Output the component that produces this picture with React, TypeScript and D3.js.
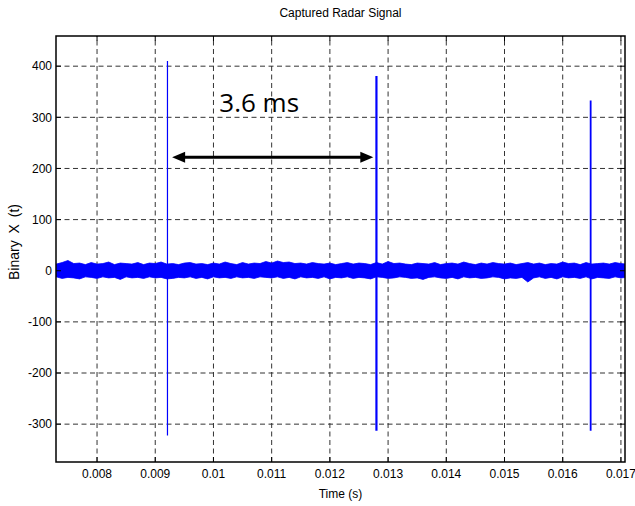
import React from "react";
import * as d3 from "d3";

const W = 635;
const H = 506;
const margin = { left: 56, right: 10, top: 36, bottom: 44 };

const xTicks = [0.008, 0.009, 0.01, 0.011, 0.012, 0.013, 0.014, 0.015, 0.016, 0.017];
const yTicks = [-300, -200, -100, 0, 100, 200, 300, 400];
const xDomain = [0.007295, 0.01707];
const yDomain = [-374, 459];

// noise envelope sampled every 0.1 ms starting at 7.3 ms
const noiseStart = 0.0073;
const noiseStep = 0.0001;
const noiseUpper = [
  13, 16, 20, 14, 15, 12, 16, 13, 14, 17, 12, 15, 14, 13, 16, 12, 15, 14, 17, 13,
  14, 12, 15, 16, 13, 14, 12, 15, 13, 17, 14, 12, 16, 13, 15, 14, 18, 15, 19, 16,
  17, 14, 15, 13, 16, 14, 13, 15, 12, 14, 16, 13, 15, 14, 12, 16, 13, 18, 14, 15,
  13, 12, 15, 14, 13, 16, 12, 14, 15, 13, 17, 14, 12, 15, 13, 16, 14, 13, 15, 12,
  14, 16, 13, 15, 12, 14, 13, 17, 14, 15, 12, 16, 13, 14, 15, 13, 16, 14, 13
];
const noiseLower = [
  -12, -15, -13, -14, -16, -12, -13, -15, -12, -14, -13, -17, -12, -14, -13, -15, -12, -14, -13, -16,
  -15, -13, -14, -12, -15, -13, -16, -12, -14, -13, -15, -12, -14, -13, -15, -12, -13, -14, -12, -15,
  -13, -16, -12, -14, -13, -15, -12, -16, -13, -14, -12, -15, -13, -14, -16, -12, -13, -15, -14, -12,
  -13, -15, -14, -17, -13, -12, -14, -15, -13, -16, -12, -14, -13, -15, -14, -12, -13, -16, -14, -15,
  -13, -22, -14, -12, -15, -13, -16, -12, -14, -13, -15, -12, -16, -13, -14, -15, -12, -14, -13
];

// pulses
const pulseTimes = [0.00921, 0.0128, 0.01648];
const pulseMax = [410, 381, 333];
const pulseMin = [-322, -313, -313];
const pulseWidth = [1.2, 2.2, 1.8];

// annotation
const arrowStart = 0.00929;
const arrowEnd = 0.012746;
const arrowY = 222;
const labelT = 0.0101;
const labelY = 310;
const labelText = "3.6 ms";

export default function App() {
  const x = d3.scaleLinear().domain(xDomain).range([margin.left, W - margin.right]);
  const y = d3.scaleLinear().domain(yDomain).range([H - margin.bottom, margin.top]);
  const [x0, x1] = x.range();
  const [y0, y1] = y.range();

  const noise = noiseUpper.map((u, i) => ({ t: noiseStart + i * noiseStep, u, l: noiseLower[i] }));
  const area = d3
    .area<{ t: number; u: number; l: number }>()
    .x((d) => x(d.t))
    .y0((d) => y(d.l))
    .y1((d) => y(d.u))
    .curve(d3.curveLinear);

  const font = "'Liberation Sans', Arial, sans-serif";
  const grid = "#333";
  const tickLen = 5;

  const ax1 = x(arrowStart);
  const ax2 = x(arrowEnd);
  const ay = y(arrowY);
  const ah = 13;
  const aw = 5.5;

  return (
    <svg width={W} height={H} style={{ position: "absolute", left: 0, top: 0, background: "#fff" }}>
      <rect width={W} height={H} fill="#fff" />
      <text x={(x0 + x1) / 2} y={17} textAnchor="middle" fontFamily={font} fontSize={12}>
        Captured Radar Signal
      </text>
      <defs>
        <clipPath id="plot">
          <rect x={x0} y={y1} width={x1 - x0} height={y0 - y1} />
        </clipPath>
      </defs>
      {/* grid */}
      {xTicks.map((t) => (
        <line key={"gx" + t} x1={x(t)} x2={x(t)} y1={y0} y2={y1} stroke={grid} strokeWidth={1} strokeDasharray="5,3.5" />
      ))}
      {yTicks.map((t) => (
        <line key={"gy" + t} x1={x0} x2={x1} y1={y(t)} y2={y(t)} stroke={grid} strokeWidth={1} strokeDasharray="5,3.5" />
      ))}
      {/* signal */}
      <g clipPath="url(#plot)">
        <path d={area(noise) || ""} fill="#0000ff" stroke="#0000ff" strokeWidth={0.8} />
        {pulseTimes.map((t, i) => (
          <line key={"p" + i} x1={x(t)} x2={x(t)} y1={y(pulseMax[i])} y2={y(pulseMin[i])} stroke="#0000ff" strokeWidth={pulseWidth[i]} />
        ))}
      </g>
      {/* ticks */}
      {xTicks.map((t) => (
        <g key={"tx" + t}>
          <line x1={x(t)} x2={x(t)} y1={y0} y2={y0 - tickLen} stroke="#000" />
          <line x1={x(t)} x2={x(t)} y1={y1} y2={y1 + tickLen} stroke="#000" />
          <text x={x(t)} y={478} textAnchor="middle" fontFamily={font} fontSize={12}>
            {String(t)}
          </text>
        </g>
      ))}
      {yTicks.map((t) => (
        <g key={"ty" + t}>
          <line x1={x0} x2={x0 + tickLen} y1={y(t)} y2={y(t)} stroke="#000" />
          <line x1={x1} x2={x1 - tickLen} y1={y(t)} y2={y(t)} stroke="#000" />
          <text x={x0 - 4} y={y(t) + 4.3} textAnchor="end" fontFamily={font} fontSize={12}>
            {String(t)}
          </text>
        </g>
      ))}
      <rect x={x0} y={y1} width={x1 - x0} height={y0 - y1} fill="none" stroke="#000" strokeWidth={1.5} />
      <text x={(x0 + x1) / 2} y={498} textAnchor="middle" fontFamily={font} fontSize={12}>
        Time (s)
      </text>
      <text
        transform={`translate(19,242) rotate(-90)`}
        textAnchor="middle"
        fontFamily={font}
        fontSize={14}
        style={{ wordSpacing: "3px" }}
      >
        Binary X (t)
      </text>
      {/* annotation */}
      <line x1={ax1 + ah - 2} x2={ax2 - ah + 2} y1={ay} y2={ay} stroke="#000" strokeWidth={3} />
      <path d={`M${ax1},${ay} L${ax1 + ah},${ay - aw} L${ax1 + ah},${ay + aw} Z`} fill="#000" />
      <path d={`M${ax2},${ay} L${ax2 - ah},${ay - aw} L${ax2 - ah},${ay + aw} Z`} fill="#000" />
      <text x={x(labelT)} y={y(labelY)} fontFamily="'Open Sans', sans-serif" fontSize={26} fill="#000">
        {labelText}
      </text>
    </svg>
  );
}
